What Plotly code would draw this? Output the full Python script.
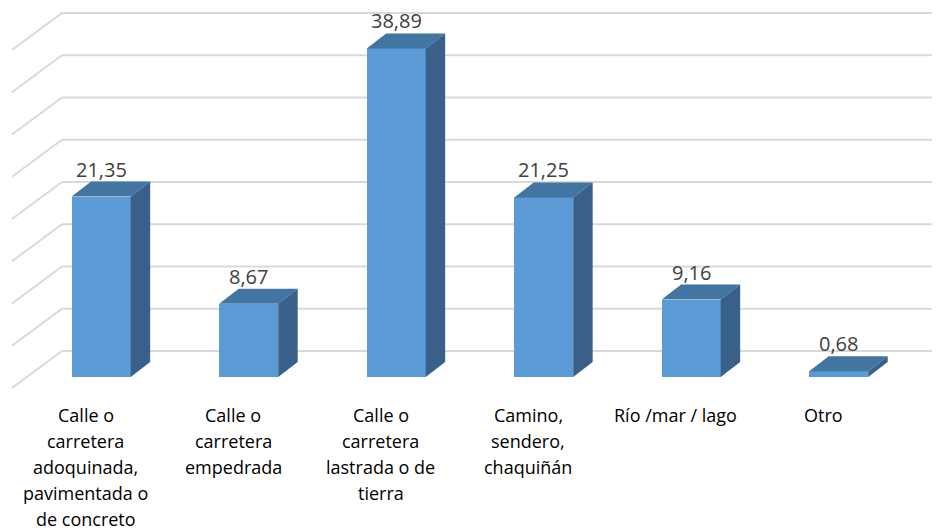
import plotly.graph_objects as go

# ---- data ----
category_lines = [
    ["Calle o", "carretera", "adoquinada,", "pavimentada o", "de concreto"],
    ["Calle o", "carretera", "empedrada"],
    ["Calle o", "carretera", "lastrada o de", "tierra"],
    ["Camino,", "sendero,", "chaquiñán"],
    ["Río /mar / lago"],
    ["Otro"],
]
values = [21.35, 8.67, 38.89, 21.25, 9.16, 0.68]
grid_values = [0, 5, 10, 15, 20, 25, 30, 35, 40]

# ---- styling / geometry (oblique 3D look) ----
FRONT = "#5B9BD5"
TOP = "#4375A2"
SIDE = "#386089"
GRID = "#D9D9D9"
FONT = "Open Sans"

bar_w = 0.40
bar_dx, bar_dy = 0.132, 1.775          # depth of each bar
floor_dx, floor_dy = 0.339, 4.38       # depth of floor / wall
ff_dx = -(floor_dx - bar_dx) / 2       # floor front relative to bar front
ff_dy = -(floor_dy - bar_dy) / 2
x_left_front = -0.605
x_right = 6.0

idx = list(range(len(values)))

fig = go.Figure()

# gridlines on back wall + left wall (shapes, below traces)
for g in grid_values:
    yb = g + ff_dy + floor_dy
    yf = g + ff_dy
    xb = x_left_front + floor_dx
    fig.add_shape(type="line", xref="x", yref="y", x0=x_left_front, y0=yf, x1=xb, y1=yb,
                  line=dict(color=GRID, width=2), layer="below")
    fig.add_shape(type="line", xref="x", yref="y", x0=xb, y0=yb, x1=x_right, y1=yb,
                  line=dict(color=GRID, width=2), layer="below")

# front faces
fig.add_trace(go.Bar(x=idx, y=values, width=bar_w, marker=dict(color=FRONT, line=dict(width=0)),
                     hoverinfo="skip", showlegend=False))

# top and side faces
for i, v in zip(idx, values):
    xl, xr = i - bar_w / 2, i + bar_w / 2
    fig.add_trace(go.Scatter(
        x=[xl, xl + bar_dx, xr + bar_dx, xr, xl],
        y=[v, v + bar_dy, v + bar_dy, v, v],
        fill="toself", fillcolor=TOP, mode="lines", line=dict(width=0, color=TOP),
        hoverinfo="skip", showlegend=False))
    fig.add_trace(go.Scatter(
        x=[xr, xr + bar_dx, xr + bar_dx, xr, xr],
        y=[0, bar_dy, v + bar_dy, v, 0],
        fill="toself", fillcolor=SIDE, mode="lines", line=dict(width=0, color=SIDE),
        hoverinfo="skip", showlegend=False))

# value labels
for i, v in zip(idx, values):
    fig.add_annotation(x=i, y=v + bar_dy, xref="x", yref="y", yanchor="bottom",
                       text=f"{v:.2f}".replace(".", ","), showarrow=False, yshift=-3,
                       font=dict(family=FONT, size=20, color="#404040"))

# page body has an 8px margin: figure is sized/positioned to compensate
OFF = 8
W, H = 940 - OFF, 531 - OFF

# category labels (one annotation per line)
first_line_px = 414.5 - OFF
line_px = 26.1
for i, lines in zip(idx, category_lines):
    for j, t in enumerate(lines):
        fig.add_annotation(x=i + ff_dx, y=1 - (first_line_px + j * line_px) / H,
                           xref="x", yref="paper", yanchor="middle", xanchor="center",
                           text=t, showarrow=False, borderpad=0,
                           font=dict(family=FONT, size=18, color="#000000"))

px_per_x = 147.5
px_per_y = 8.45
x0_px = 101.2 - OFF
base_px = 377 - OFF
fig.update_layout(
    width=W, height=H,
    margin=dict(l=0, r=0, t=0, b=0),
    paper_bgcolor="white", plot_bgcolor="white",
    xaxis=dict(range=[-x0_px / px_per_x, (W - x0_px) / px_per_x], visible=False, fixedrange=True),
    yaxis=dict(range=[(base_px - H) / px_per_y, base_px / px_per_y], visible=False, fixedrange=True),
    bargap=0,
    showlegend=False,
)

fig.write_html("out.html")
